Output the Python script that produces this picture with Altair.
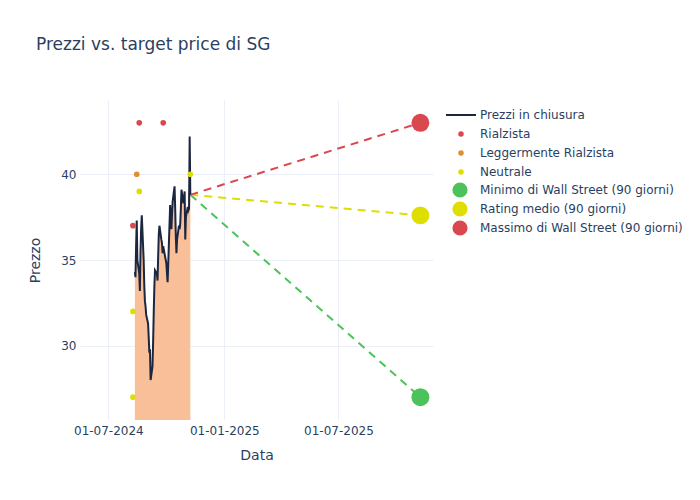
import altair as alt
import pandas as pd

FONT = "DejaVu Sans"
TXT = "#2a3f5f"

# --- data -------------------------------------------------------------
price_dates = pd.bdate_range("2024-08-12", "2024-11-08")
price_values = [
    34.3, 34.0, 35.8, 37.3, 35.0,
    34.2, 33.2, 35.5, 36.8, 37.6,
    35.0, 33.5, 32.6, 32.3, 31.8,
    31.3, 30.5, 29.6, 29.8, 28.0,
    28.8, 30.2, 32.0, 33.5, 34.4,
    34.2, 33.8, 35.2, 36.5, 37.0,
    36.2, 36.0, 35.4, 35.8, 35.6,
    35.0, 34.8, 34.2, 33.7, 34.8,
    38.2, 37.4, 36.8, 37.7, 38.4,
    39.3, 38.0, 36.4, 35.4, 36.2,
    37.0, 36.8, 37.1, 38.0, 39.1,
    38.3, 38.6, 39.0, 36.2, 37.5,
    38.1, 37.9, 38.0, 42.2, 38.8,
]

rating_dates = ["2024-08-09", "2024-08-19", "2024-09-26", "2024-08-15",
                "2024-08-19", "2024-08-09", "2024-08-09", "2024-11-08"]
rating_values = [37.0, 43.0, 43.0, 40.0, 39.0, 32.0, 27.0, 40.0]
rating_types = ["Rialzista", "Rialzista", "Rialzista", "Leggermente Rialzista",
                "Neutrale", "Neutrale", "Neutrale", "Neutrale"]
rating_order = ["Rialzista", "Leggermente Rialzista", "Neutrale"]
rating_colors = ["#d9484f", "#e0902a", "#dede00"]

target_date = "2025-11-08"
target_names = ["Minimo di Wall Street (90 giorni)", "Rating medio (90 giorni)",
                "Massimo di Wall Street (90 giorni)"]
target_values = [27.0, 37.6, 43.0]
target_colors = ["#4cc35a", "#dede00", "#d9484f"]

line_name = "Prezzi in chiusura"
line_color = "#1c2640"

# --- tables -------------------------------------------------------------
prices = pd.DataFrame({"Data": price_dates, "Prezzo": price_values, "Serie": line_name})
ratings = pd.DataFrame({"Data": pd.to_datetime(rating_dates), "Prezzo": rating_values,
                        "Serie": rating_types})
targets = pd.DataFrame({"Data": pd.to_datetime([target_date] * 3), "Prezzo": target_values,
                        "Serie": target_names})
last_date = prices["Data"].iloc[-1]
last_price = prices["Prezzo"].iloc[-1]
proj_rows = []
for n, v in zip(target_names, target_values):
    proj_rows.append({"Data": last_date, "Prezzo": last_price, "Serie": n})
    proj_rows.append({"Data": pd.Timestamp(target_date), "Prezzo": v, "Serie": n})
proj = pd.DataFrame(proj_rows)

# --- scales -------------------------------------------------------------
xscale = alt.Scale(domain=[pd.Timestamp("2024-05-17").isoformat(),
                           pd.Timestamp("2025-11-28").isoformat()], nice=False)
yscale = alt.Scale(domain=[25.67, 44.33], nice=False, zero=False)

x_enc = alt.X("Data:T", scale=xscale, title="Data",
              axis=alt.Axis(values=[pd.Timestamp("2024-07-01").isoformat(),
                                    pd.Timestamp("2025-01-01").isoformat(),
                                    pd.Timestamp("2025-07-01").isoformat()],
                            format="%d-%m-%Y", labelFlush=False))
y_enc = alt.Y("Prezzo:Q", scale=yscale, title="Prezzo",
              axis=alt.Axis(values=[30, 35, 40]))


def leg(x, y, size, shape, label_offset):
    return alt.Legend(orient="none", legendX=x, legendY=y, padding=0,
                      symbolSize=size, symbolType=shape, clipHeight=16, rowPadding=3,
                      labelOffset=label_offset, labelFontSize=12, labelColor=TXT,
                      labelFont=FONT, labelLimit=300, symbolOpacity=1,
                      symbolStrokeWidth=2 if shape == "stroke" else 0)


LX = 365
LY = 7

area = alt.Chart(prices).mark_area(color="#f9bf99", opacity=1, clip=True).encode(
    x=x_enc, y=y_enc, y2=alt.datum(0))

line = alt.Chart(prices).mark_line(strokeWidth=2, clip=True).encode(
    x=x_enc, y=y_enc,
    color=alt.Color("Serie:N", title=None,
                    scale=alt.Scale(domain=[line_name], range=[line_color]),
                    legend=leg(LX, LY, 900, "stroke", 3)))

proj_layers = [
    alt.Chart(proj[proj["Serie"] == n]).mark_line(
        color=c, strokeWidth=2, strokeDash=[8, 6], clip=True).encode(x=x_enc, y=y_enc)
    for n, c in zip(target_names, target_colors)
]

pts = alt.Chart(ratings).mark_circle(size=32, opacity=1).encode(
    x=x_enc, y=y_enc,
    color=alt.Color("Serie:N", title=None,
                    scale=alt.Scale(domain=rating_order, range=rating_colors),
                    legend=leg(LX + 10, LY + 19, 30, "circle", 13)))

tgt = alt.Chart(targets).mark_circle(size=320, opacity=1).encode(
    x=x_enc, y=y_enc,
    color=alt.Color("Serie:N", title=None,
                    scale=alt.Scale(domain=target_names, range=target_colors),
                    legend=leg(LX + 7, LY + 75, 230, "circle", 12)))

chart = alt.layer(area, *proj_layers, line, pts, tgt).resolve_scale(
    color="independent"
).properties(
    width=353, height=320,
    autosize=alt.AutoSizeParams(type="none"),
    padding={"left": 72, "top": 92, "right": 255, "bottom": 70},
    title=alt.TitleParams("Prezzi vs. target price di SG", anchor="start", frame="group",
                          dx=-44, offset=46, fontSize=17, font=FONT, color=TXT,
                          fontWeight="normal"),
).configure_view(stroke=None).configure_axis(
    grid=True, gridColor="#ebf0f8", domain=False, ticks=False,
    labelFont=FONT, titleFont=FONT, labelColor=TXT, titleColor=TXT,
    labelFontSize=12, titleFontSize=14, titleFontWeight="normal",
).configure_axisX(labelPadding=5, titlePadding=12).configure_axisY(
    labelPadding=4, titlePadding=18)

chart.save("out.html", embed_options={"renderer": "svg", "actions": False})
